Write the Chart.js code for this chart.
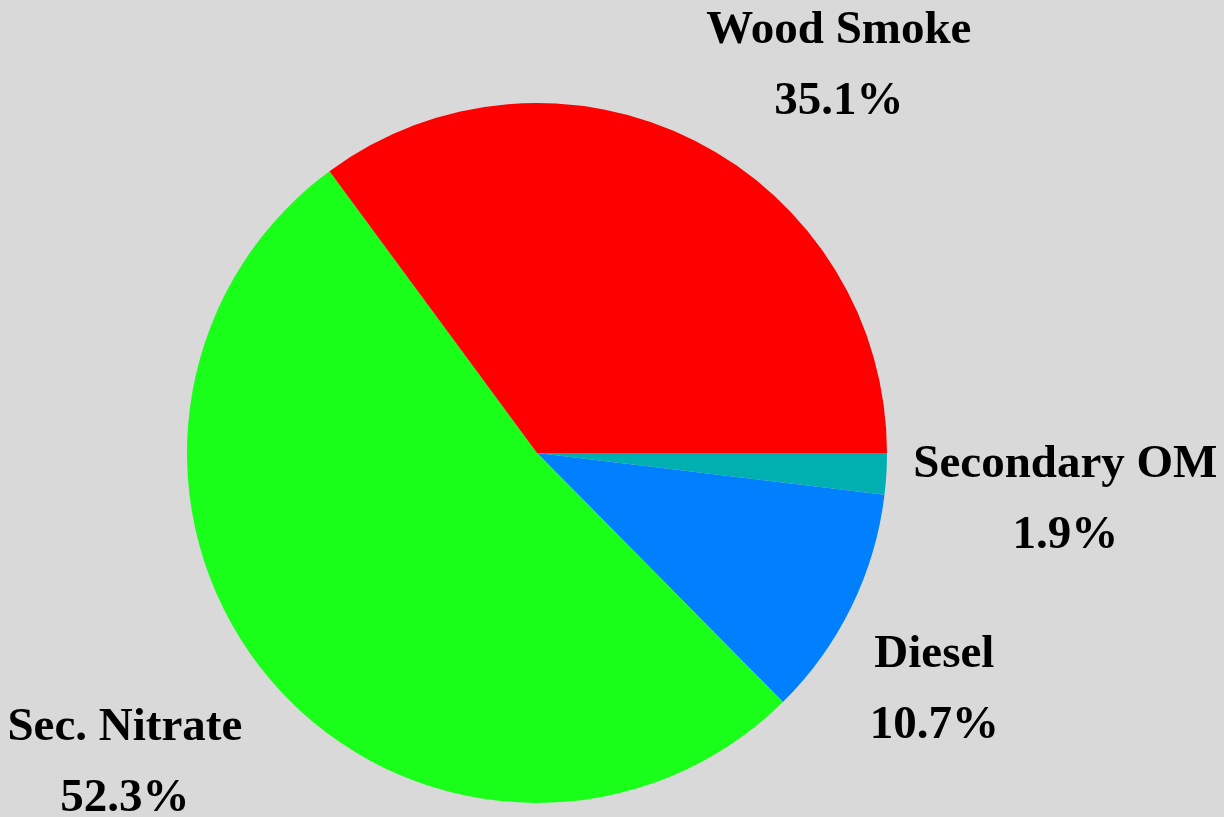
<!DOCTYPE html>
<html>
<head>
<meta charset="utf-8">
<script src="https://cdn.jsdelivr.net/npm/chart.js@4/dist/chart.umd.min.js"></script>
<style>
  html, body { margin: 0; padding: 0; background: #d9d9d9; }
  canvas { display: block; }
</style>
</head>
<body>
<canvas id="pieChart" width="1224" height="817"></canvas>
<script>
// slice order runs clockwise from 3 o'clock
const sources = ["Secondary OM", "Diesel", "Sec. Nitrate", "Wood Smoke"]
const shares = [1.9, 10.7, 52.3, 35.1]
const sliceColors = ["#00b0b0", "#0080ff", "#1aff1a", "#ff0000"]

// where each label sits, relative to the middle of its slice's outer edge
const labelOffsets = [
  { dx: 179, dy: 3 },
  { dx: 83, dy: 60 },
  { dx: -146, dy: 60 },
  { dx: 144, dy: -98 }
]

const outsideLabels = {
  id: "outsideLabels",
  afterDatasetsDraw(chart) {
    const ctx = chart.ctx
    const meta = chart.getDatasetMeta(0)
    ctx.save()
    ctx.fillStyle = "#000"
    ctx.font = "bold 47px 'Liberation Serif', 'Times New Roman', serif"
    ctx.textAlign = "center"
    ctx.textBaseline = "alphabetic"
    meta.data.forEach((arc, i) => {
      const { x, y, startAngle, endAngle, outerRadius } = arc.getProps(
        ["x", "y", "startAngle", "endAngle", "outerRadius"], true)
      const mid = (startAngle + endAngle) / 2
      const px = x + Math.cos(mid) * outerRadius + labelOffsets[i].dx
      const py = y + Math.sin(mid) * outerRadius + labelOffsets[i].dy
      ctx.fillText(sources[i], px, py)
      ctx.fillText(shares[i].toFixed(1) + "%", px, py + 71)
    })
    ctx.restore()
  }
}

new Chart(document.getElementById("pieChart"), {
  type: "pie",
  data: {
    labels: sources,
    datasets: [{
      data: shares,
      backgroundColor: sliceColors,
      borderWidth: 0
    }]
  },
  options: {
    responsive: false,
    animation: false,
    rotation: 90,
    layout: {
      padding: { left: 187, right: 337, top: 103, bottom: 14 }
    },
    plugins: {
      legend: { display: false },
      tooltip: { enabled: false }
    }
  },
  plugins: [outsideLabels]
})
</script>
</body>
</html>
